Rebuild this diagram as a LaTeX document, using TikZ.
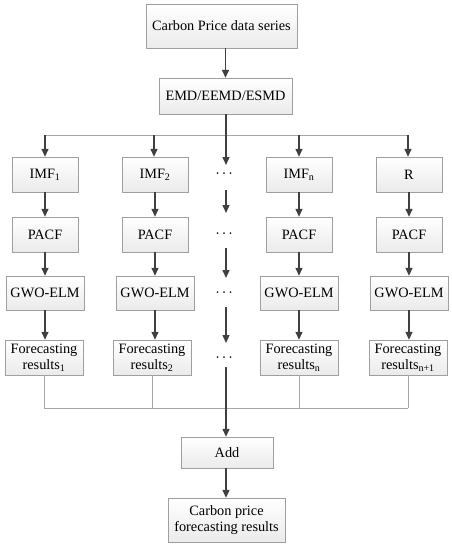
\documentclass[tikz,border=0pt]{standalone}
\usepackage{fontspec}
\setmainfont{Liberation Serif}
\usetikzlibrary{arrows.meta,calc}
\newcommand{\threedots}{\tikz[x=1pt,y=1pt,baseline=-1pt]{\fill[black!85] (0,0) circle[radius=1pt] (6.5,0) circle[radius=1pt] (13,0) circle[radius=1pt];}}
\begin{document}
\begin{tikzpicture}[x=1pt,y=-1pt,
  box/.style={draw=gray!75, top color=white, bottom color=gray!16, inner sep=1pt,
    font=\fontsize{14.3}{16}\selectfont, align=center, minimum height=35pt},
  arr/.style={draw=black!75, line width=1.4pt, -{Triangle[length=8pt,width=7pt]}},
  darkline/.style={draw=black!75, line width=1.4pt},
  thin/.style={draw=gray!70, line width=0.8pt},
  dots/.style={inner sep=0pt}]
\useasboundingbox (0,0) rectangle (451,550);
% main boxes
\node[box, minimum width=151pt, minimum height=44pt] (top) at (221.5,26) {Carbon Price data series};
\node[box, minimum width=133pt, minimum height=36pt] (emd) at (225.5,96) {EMD/EEMD/ESMD};
% rows
\foreach \n/\x/\t in {1/45/IMF\textsubscript{1}, 2/155/IMF\textsubscript{2}, 3/299/IMF\textsubscript{n}, 4/409/R}{
  \node[box, minimum width=66pt] (imf\n) at (\x,174.5) {\t};
  \node[box, minimum width=66pt] (pacf\n) at (\x,234.5) {PACF};
  \node[box, minimum width=78pt, minimum height=34pt] (gwo\n) at (\x,293) {GWO-ELM};
}
\node[box, minimum width=78pt] (fc1) at (44,357.5) {Forecasting\\results\textsubscript{1}};
\node[box, minimum width=78pt] (fc2) at (152,357.5) {Forecasting\\results\textsubscript{2}};
\node[box, minimum width=78pt] (fc3) at (299,357.5) {Forecasting\\results\textsubscript{n}};
\node[box, minimum width=78pt] (fc4) at (408,357.5) {Forecasting\\results\textsubscript{n+1}};
\node[box, minimum width=92pt, minimum height=31pt] (add) at (227,452.5) {Add};
\node[box, minimum width=117pt, minimum height=44pt] (res) at (226.5,520) {Carbon price\\forecasting results};
% dots column
\node[dots] (d1) at (224,173) {\threedots};
\node[dots] (d2) at (224,233) {\threedots};
\node[dots] (d3) at (224,292) {\threedots};
\node[dots] (d4) at (224,357) {\threedots};
% split / join coordinates
\coordinate (s0) at (226,135);
\coordinate (s1) at (45,135);
\coordinate (s2) at (154,135);
\coordinate (s3) at (299,135);
\coordinate (s4) at (408,135);
\coordinate (j0) at (226,408);
\coordinate (j1) at (44,408);
\coordinate (j2) at (152,408);
\coordinate (j3) at (299,408);
\coordinate (j4) at (408,408);
\coordinate (m1) at (226,165);
\coordinate (m2a) at (226,190);
\coordinate (m2) at (226,213);
\coordinate (m3a) at (226,248);
\coordinate (m3) at (226,278);
\coordinate (m4a) at (226,307);
\coordinate (m4) at (226,343);
\coordinate (m5a) at (226,367);
% connectors
\draw[arr] (top.south -| emd.north) -- (emd.north);
\draw[thin] (s1) -- (s4);
\draw[darkline] (emd.south -| s0) -- (s0);
\draw[arr] (s1) -- (imf1.north -| s1);
\draw[arr] (s2) -- (imf2.north -| s2);
\draw[arr] (s3) -- (imf3.north);
\draw[arr] (s4) -- (imf4.north -| s4);
\foreach \n in {1,2,3,4}{
  \draw[arr] (imf\n.south) -- (pacf\n.north);
  \draw[arr] (pacf\n.south) -- (gwo\n.north);
}
\draw[arr] (gwo1.south) -- (fc1.north -| gwo1.south);
\draw[arr] (gwo2.south) -- (fc2.north -| gwo2.south);
\draw[arr] (gwo3.south) -- (fc3.north);
\draw[arr] (gwo4.south) -- (fc4.north -| gwo4.south);
% middle column
\draw[arr] (s0) -- (m1);
\draw[arr] (m2a) -- (m2);
\draw[arr] (m3a) -- (m3);
\draw[arr] (m4a) -- (m4);
\draw[darkline] (m5a) -- (j0);
% join
\draw[thin] (fc1.south) -- (j1);
\draw[thin] (fc2.south) -- (j2);
\draw[thin] (fc3.south) -- (j3);
\draw[thin] (fc4.south) -- (j4);
\draw[thin] (j1) -- (j4);
\draw[arr] (j0) -- (add.north -| j0);
\draw[arr] (add.south -| j0) -- (res.north -| j0);
\end{tikzpicture}
\end{document}
